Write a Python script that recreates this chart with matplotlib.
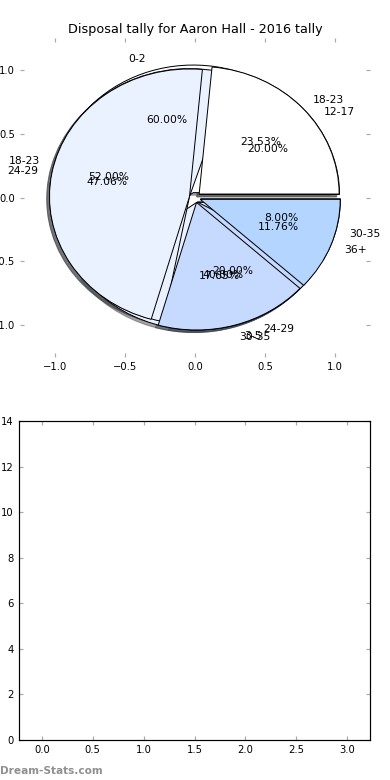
import matplotlib
matplotlib.use("Agg")
import matplotlib.pyplot as plt

# Data: three pies overlaid on one axes (draw order bottom -> top)
labels_a = ["0-2", "3-5"]
values_a = [60, 40]

labels_b = ["12-17", "18-23", "24-29", "30-35"]
values_b = [20, 52, 20, 8]

labels_c = ["18-23", "24-29", "30-35", "36+"]
values_c = [4, 8, 3, 2]

wedge_colors = ["#ffffff", "#ebf2ff", "#c6d9ff", "#b3d5ff"]

title = "Disposal tally for Aaron Hall - 2016 tally"

plt.rcParams['font.family'] = ['DejaVu Sans']
plt.rcParams['xtick.direction'] = 'in'
plt.rcParams['ytick.direction'] = 'in'
plt.rcParams['xtick.top'] = True
plt.rcParams['ytick.right'] = True

DPI = 72
fig = plt.figure(figsize=(390 / DPI, 780 / DPI), dpi=DPI, facecolor='white')

ax1 = fig.add_axes([20 / 390, 1 - 357 / 780, 350 / 390, 319 / 780])
ax2 = fig.add_axes([19 / 390, 1 - 740 / 780, 351 / 390, 319 / 780])

for vals, labs in [(values_a, labels_a), (values_b, labels_b), (values_c, labels_c)]:
    ax1.pie(vals, labels=labs, colors=wedge_colors[:len(vals)],
            explode=[0.04] * len(vals), shadow=True, autopct='%1.2f%%',
            startangle=0, wedgeprops=dict(edgecolor='black', linewidth=1),
            textprops=dict(fontsize=10.7))

ax1.set_aspect('auto')
ax1.set_frame_on(False)
ax1.set_xlim(-1.25, 1.25)
ax1.set_ylim(-1.25, 1.25)
ax1.set_xticks([-1.0, -0.5, 0.0, 0.5, 1.0])
ax1.set_yticks([-1.0, -0.5, 0.0, 0.5, 1.0])
ax1.set_xticklabels(["\u22121.0", "\u22120.5", "0.0", "0.5", "1.0"])
ax1.set_yticklabels(["\u22121.0", "\u22120.5", "0.0", "0.5", "1.0"])
ax1.set_title(title, fontsize=12.8, pad=5)

ax2.set_xlim(-0.225, 3.225)
ax2.set_ylim(0, 14)
ax2.set_xticks([0.0, 0.5, 1.0, 1.5, 2.0, 2.5, 3.0])
ax2.set_yticks([0, 2, 4, 6, 8, 10, 12, 14])

for ax in (ax1, ax2):
    ax.tick_params(axis='both', which='both', labelsize=10, color='#aaaaaa',
                   length=4, width=1.2, pad=5)
for sp in ax2.spines.values():
    sp.set_linewidth(1.2)

fig.text(0.0, 1 - 771 / 780, "Dream-Stats.com", fontsize=10.5, color='#909090',
         ha='left', va='center', fontweight='semibold')

fig.savefig("out.png", dpi=DPI, facecolor='white')
